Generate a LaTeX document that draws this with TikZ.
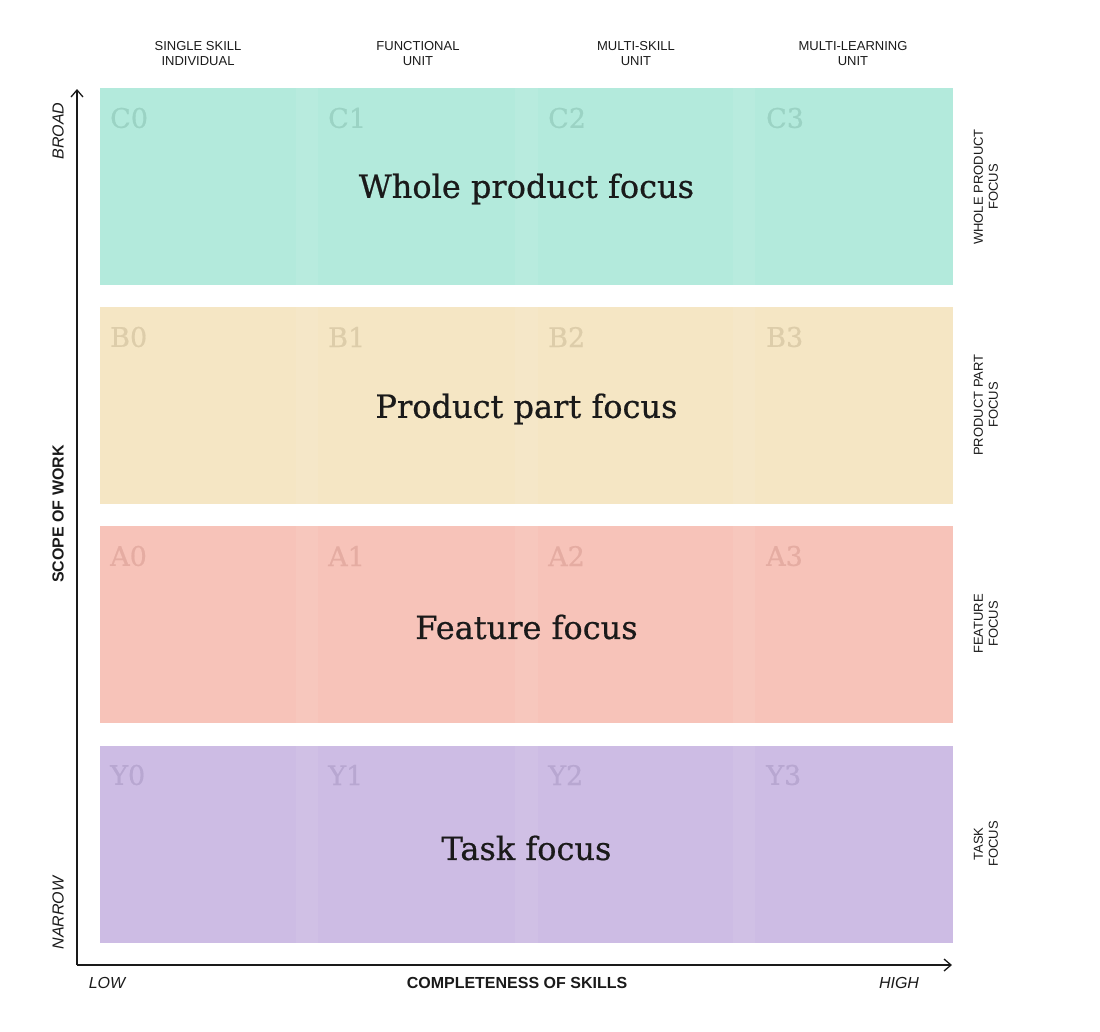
\documentclass[tikz,border=0pt]{standalone}
\usepackage{fontspec}
\setmainfont{Liberation Sans}
\newfontfamily\slab[FakeBold=0.6]{DejaVu Serif}
\usetikzlibrary{arrows.meta}
\definecolor{rowC}{HTML}{B3EADC}
\definecolor{rowB}{HTML}{F5E6C4}
\definecolor{rowA}{HTML}{F7C3B9}
\definecolor{rowY}{HTML}{CDBCE4}
\definecolor{labC}{HTML}{9BD3C4}
\definecolor{labB}{HTML}{DDCDAA}
\definecolor{labA}{HTML}{E5ACA2}
\definecolor{labY}{HTML}{B8A7D1}
\definecolor{ink}{HTML}{1A1A1A}
\tikzset{
  rowbox/.style={inner sep=0pt, minimum width=853pt, minimum height=197pt, draw=none},
  title/.style={font=\slab\fontsize{32}{36}\selectfont, text=ink, inner sep=0pt},
  cell/.style={font=\slab\fontsize{27}{30}\selectfont, anchor=west, inner sep=0pt},
  colhead/.style={font=\fontsize{13}{15}\selectfont, align=center, text=ink, inner sep=0pt},
  sidehead/.style={font=\fontsize{13}{15}\selectfont, align=center, text=ink, rotate=90, inner sep=0pt},
  axislab/.style={font=\bfseries\fontsize{16}{18}\selectfont, text=ink, inner sep=0pt},
  endlab/.style={font=\itshape\fontsize{16}{18}\selectfont, text=ink, inner sep=0pt},
  axisline/.style={line width=1.5pt, draw=ink, -{Straight Barb[length=7pt,width=12pt,line width=1.3pt]}},
  strip/.style={fill=white, fill opacity=0.07, draw=none}
}
\begin{document}
\begin{tikzpicture}[x=1pt,y=-1pt]
\useasboundingbox (0,0) rectangle (1100,1031);
% rows
\node[rowbox, fill=rowC] (C) at (526.5,186.5) {};
\node[rowbox, fill=rowB] (B) at (526.5,405) {};
\node[rowbox, fill=rowA] (A) at (526.5,624) {};
\node[rowbox, fill=rowY] (Y) at (526.5,844) {};
% column strips
\foreach \r in {C,B,A,Y}{
  \fill[strip] (296,0 |- \r.north) rectangle (318,0 |- \r.south);
  \fill[strip] (515,0 |- \r.north) rectangle (538,0 |- \r.south);
  \fill[strip] (733,0 |- \r.north) rectangle (755,0 |- \r.south);
}
% cell labels
\foreach \c/\x in {0/110,1/328,2/548,3/766}{
  \node[cell, text=labC] (C\c) at (\x,118) {C\c};
  \node[cell, text=labB] (B\c) at (\x,337) {B\c};
  \node[cell, text=labA] (A\c) at (\x,556) {A\c};
  \node[cell, text=labY] (Y\c) at (\x,775) {Y\c};
}
% titles
\node[title] (tC) at (526.5,189) {Whole product focus};
\node[title] (tB) at (526.5,409) {Product part focus};
\node[title] (tA) at (526.5,627) {Feature focus};
\node[title] (tY) at (526.5,848) {Task focus};
% column headers
\node[colhead] (h0) at (198,54) {SINGLE SKILL\\INDIVIDUAL};
\node[colhead] (h1) at (418,54) {FUNCTIONAL\\UNIT};
\node[colhead] (h2) at (636,54) {MULTI-SKILL\\UNIT};
\node[colhead] (h3) at (853,54) {MULTI-LEARNING\\UNIT};
% side headers
\node[sidehead] (s3) at (986,187) {WHOLE PRODUCT\\FOCUS};
\node[sidehead] (s2) at (986,405) {PRODUCT PART\\FOCUS};
\node[sidehead] (s1) at (986,624) {FEATURE\\FOCUS};
\node[sidehead] (s0) at (986,844) {TASK\\FOCUS};
% axes
\coordinate (O) at (77,965);
\coordinate (ytop) at (77,89);
\coordinate (xend) at (952,965);
\draw[axisline] (O) -- (ytop);
\draw[axisline] (O) -- (xend);
% axis labels
\node[endlab, rotate=90] (broad) at (58,131) {BROAD};
\node[endlab, rotate=90] (narrow) at (58,913) {NARROW};
\node[axislab, rotate=90] (scope) at (58,514) {SCOPE OF WORK};
\node[endlab] (low) at (107,983) {LOW};
\node[axislab] (compl) at (517,983) {COMPLETENESS OF SKILLS};
\node[endlab] (high) at (899,983) {HIGH};
\end{tikzpicture}
\end{document}
